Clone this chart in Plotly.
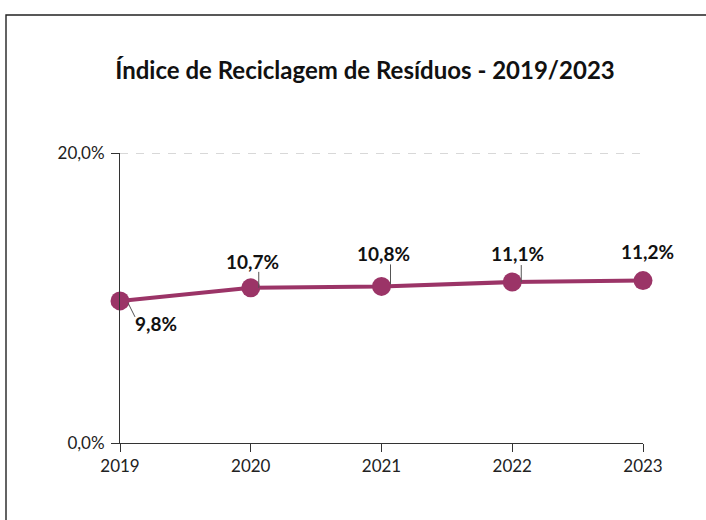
import plotly.graph_objects as go

years = [2019, 2020, 2021, 2022, 2023]
values = [9.8, 10.7, 10.8, 11.1, 11.2]
labels = ["9,8%", "10,7%", "10,8%", "11,1%", "11,2%"]
y_ticks = [0, 20]
y_tick_text = ["0,0%", "20,0%"]
title_text = "Índice de Reciclagem de Resíduos - 2019/2023"

color = "#9B3467"
font_family = "Lato, 'Open Sans', sans-serif"

# label offsets (pixels) relative to each point
label_dx = [36, 2, 2, 5, 4]
label_dy = [-23, 26, 33, 29, 29]
# leader line offsets (pixels): (x0, y0, x1, y1), y positive upward
leaders = [(8, -2, 15, -16), (8, 0, 8, 16), (9, 2, 9, 22), (9, 0, 9, 17), (9, 1, 9, 20)]

fig = go.Figure()
fig.add_trace(go.Scatter(
    x=years, y=values, mode="lines+markers",
    line=dict(color=color, width=4),
    marker=dict(color=color, size=19),
    cliponaxis=False, hoverinfo="skip", showlegend=False,
))

for yr, v, lab, dx, dy, ld in zip(years, values, labels, label_dx, label_dy, leaders):
    fig.add_annotation(
        x=yr, y=v, text="<b>%s</b>" % lab, showarrow=False,
        xshift=dx, yshift=dy, xanchor="center", yanchor="middle",
        font=dict(family=font_family, size=19, color="#111111"),
    )
    fig.add_shape(
        type="line", xref="x", yref="y",
        xsizemode="pixel", ysizemode="pixel",
        xanchor=yr, yanchor=v,
        x0=ld[0], y0=ld[1], x1=ld[2], y1=ld[3],
        line=dict(color="#555555", width=1),
    )

# dashed gridline at the top tick value
fig.add_shape(
    type="line", xref="paper", yref="y",
    x0=0, x1=1.004, y0=y_ticks[-1], y1=y_ticks[-1],
    line=dict(color="#cccccc", width=1.5, dash="8px,8px"),
    layer="below",
)

# outer frame
L, R, T, B = 120, 63, 153, 77
pw, ph = 706 - L - R, 520 - T - B
fig.add_shape(
    type="rect", xref="paper", yref="paper",
    x0=(6 - L) / pw, x1=1.3, y0=-0.5, y1=(520 - B - 15) / ph,
    line=dict(color="#222222", width=1.4), fillcolor="rgba(0,0,0,0)",
    layer="below",
)

fig.update_layout(
    width=706, height=520,
    margin=dict(l=L, r=R, t=T, b=B),
    paper_bgcolor="white", plot_bgcolor="white",
    title=dict(
        text="<b>%s</b>" % title_text, x=365 / 706, xanchor="center",
        y=1 - 71 / 520, yanchor="middle", yref="container", xref="container",
        font=dict(family=font_family, size=24, color="#111111"),
    ),
    font=dict(family=font_family, size=17, color="#222222"),
)
fig.update_xaxes(
    range=[2019, 2023], tickvals=years, ticktext=[str(y) for y in years],
    showline=True, linecolor="#333333", linewidth=1,
    ticks="outside", ticklen=8, tickcolor="#333333",
    showgrid=False, zeroline=False,
    tickfont=dict(family=font_family, size=17, color="#222222"),
)
fig.update_yaxes(
    range=[0, 20], tickvals=y_ticks, ticktext=y_tick_text,
    showline=True, linecolor="#333333", linewidth=1,
    ticks="outside", ticklen=8, tickcolor="#333333",
    showgrid=False, zeroline=False, ticklabelstandoff=3,
    tickfont=dict(family=font_family, size=17, color="#222222"),
)

fig.write_html(
    "out.html",
    config={"displayModeBar": False},
    post_script="document.body.style.margin='0';",
)
